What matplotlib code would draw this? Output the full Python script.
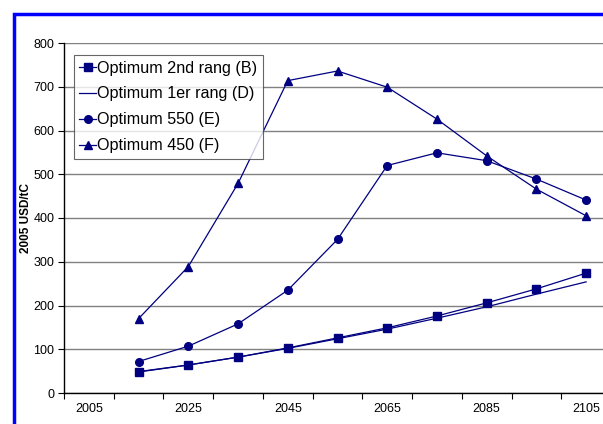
import matplotlib
matplotlib.use("Agg")
import matplotlib.pyplot as plt
from matplotlib.patches import Rectangle

plt.rcParams["font.family"] = ["Liberation Sans", "DejaVu Sans"]

# category axis: 2005 .. 2105, data starts in 2015
categories = [2005, 2015, 2025, 2035, 2045, 2055, 2065, 2075, 2085, 2095, 2105]
years = [2015, 2025, 2035, 2045, 2055, 2065, 2075, 2085, 2095, 2105]

opt_2nd_b = [49, 64, 82, 103, 126, 149, 176, 206, 238, 274]
opt_1er_d = [48, 64, 82, 102, 124, 146, 171, 197, 226, 254]
opt_550_e = [72, 107, 158, 235, 351, 520, 549, 531, 489, 441]
opt_450_f = [170, 289, 479, 714, 736, 699, 626, 542, 466, 405]

NAVY = "#000080"

W, H = 603, 424
fig = plt.figure(figsize=(W / 100, H / 100), dpi=100)

# axes spans past the right edge of the picture, as in the original
left, right, top, bottom = 64, 611, 43, 393
ax = fig.add_axes([left / W, (H - bottom) / H, (right - left) / W, (bottom - top) / H])

xpos = [categories.index(y) + 0.5 for y in years]

ax.plot(xpos, opt_2nd_b, color=NAVY, lw=0.9, marker="s", ms=5.5, label="Optimum 2nd rang (B)")
ax.plot(xpos, opt_1er_d, color=NAVY, lw=0.9, label="Optimum 1er rang (D)")
ax.plot(xpos, opt_550_e, color=NAVY, lw=0.9, marker="o", ms=5.5, label="Optimum 550 (E)")
ax.plot(xpos, opt_450_f, color=NAVY, lw=0.9, marker="^", ms=6, label="Optimum 450 (F)")

ax.set_xlim(0, len(categories))
ax.set_ylim(0, 800)
ax.set_yticks(range(0, 801, 100))
ax.yaxis.grid(True, color="#808080", lw=1)
ax.set_axisbelow(True)

ax.set_xticks(range(len(categories) + 1))
ax.set_xticklabels([])
ax.set_xticks([i + 0.5 for i in range(0, len(categories), 2)], minor=True)
ax.set_xticklabels([str(categories[i]) for i in range(0, len(categories), 2)], minor=True)
ax.tick_params(axis="x", which="minor", length=0, pad=7)
ax.tick_params(axis="x", which="major", length=4, direction="out", color="black")
ax.tick_params(axis="y", length=4, direction="out", pad=3)
ax.tick_params(which="both", labelsize=9)

for side in ("top", "right"):
    ax.spines[side].set_visible(False)
for side in ("left", "bottom"):
    ax.spines[side].set_color("black")
    ax.spines[side].set_linewidth(1)

ax.set_ylabel("2005 USD/tC", fontsize=8.5, fontweight="bold")
ax.yaxis.set_label_coords(-0.058, 0.5)

leg = ax.legend(loc="upper left", bbox_to_anchor=(0.018, 0.966), borderaxespad=0,
                fancybox=False, frameon=True, fontsize=11.6, handlelength=1.0,
                handletextpad=0.1, labelspacing=0.68, borderpad=0.35)
leg.get_frame().set_edgecolor("#404040")
leg.get_frame().set_linewidth(0.8)

# blue frame of the original slide (right and bottom sides fall outside the picture)
fig.patches.append(Rectangle((13.5 / W, -0.2), 2.0, (H - 13.5) / H + 0.2,
                             transform=fig.transFigure, fill=False,
                             edgecolor="#0000ff", lw=2.5))

fig.savefig("out.png", dpi=100)
